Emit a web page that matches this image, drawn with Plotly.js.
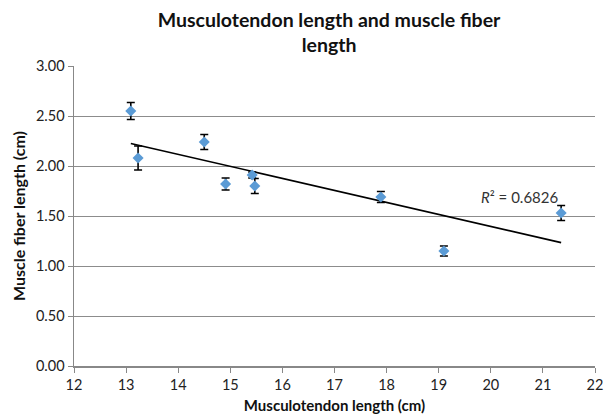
<!DOCTYPE html>
<html>
<head>
<meta charset="utf-8">
<script src="https://cdn.plot.ly/plotly-3.0.1.min.js"></script>
<style>html,body{margin:0;padding:0;background:#fff;}#chart{width:606px;height:420px;}</style>
</head>
<body>
<div id="chart"></div>
<script>
const musculotendonLength = [13.09, 13.23, 14.50, 14.91, 15.42, 15.47, 17.89, 19.10, 21.35];
const fiberLength = [2.55, 2.08, 2.24, 1.82, 1.91, 1.80, 1.69, 1.15, 1.53];
const fiberError = [0.085, 0.12, 0.075, 0.06, 0.03, 0.075, 0.055, 0.05, 0.075];
const r2Label = "R² = 0.6826";

// least squares trendline from data
const n = musculotendonLength.length;
const mx = musculotendonLength.reduce((a,b)=>a+b,0)/n;
const my = fiberLength.reduce((a,b)=>a+b,0)/n;
let sxy = 0, sxx = 0;
for (let i=0;i<n;i++){ sxy += (musculotendonLength[i]-mx)*(fiberLength[i]-my); sxx += (musculotendonLength[i]-mx)**2; }
const slope = sxy/sxx, intercept = my - slope*mx;
const xMin = Math.min(...musculotendonLength), xMax = Math.max(...musculotendonLength);
const trendX = [xMin, xMax];
const trendY = trendX.map(x => intercept + slope*x);

const font = "Lato, 'Open Sans', 'Liberation Sans', sans-serif";

const traces = [
  {x: trendX, y: trendY, mode: 'lines', line: {color: '#000', width: 1.6}, hoverinfo: 'skip'},
  {x: musculotendonLength, y: fiberLength, mode: 'markers', type: 'scatter',
   marker: {symbol: 'diamond', size: 8.5, color: '#5B9BD5'},
   error_y: {type: 'data', array: fiberError, visible: true, color: '#000', thickness: 1.6, width: 4}}
];

const layout = {
  width: 606, height: 420,
  margin: {l: 74, r: 11, t: 66, b: 54},
  paper_bgcolor: '#fff', plot_bgcolor: '#fff',
  showlegend: false,
  font: {family: font, color: '#222'},
  title: {text: '<b>Musculotendon length and muscle fiber<br>length</b>', x: 0.543, xanchor: 'center',
          yref: 'container', y: 0.936, yanchor: 'middle',
          font: {family: font, size: 19.5, color: '#111'}},
  xaxis: {range: [12, 22], dtick: 1, tick0: 12, showgrid: false, zeroline: false,
          showline: true, linecolor: '#888', linewidth: 1.5, ticks: 'outside', ticklen: 5, tickcolor: '#888',
          tickfont: {size: 14.5, color: '#222'},
          title: {text: '<b>Musculotendon length (cm)</b>', font: {size: 15, color: '#111'}, standoff: 8}},
  yaxis: {range: [0, 3], dtick: 0.5, tickformat: '.2f', showgrid: true, gridcolor: '#8c8c8c', gridwidth: 1,
          zeroline: false, showline: true, linecolor: '#888', linewidth: 1.5, ticks: 'outside', ticklen: 5, tickcolor: '#888',
          tickfont: {size: 14.5, color: '#222'},
          title: {text: '<b>Muscle fiber length (cm)</b>', font: {size: 16, color: '#111'}, standoff: 6}},
  annotations: [{x: 20.56, y: 1.69, xref: 'x', yref: 'y', text: r2Label.replace('R', '<i>R</i>'), showarrow: false,
                 font: {size: 15, color: '#333'}, xanchor: 'center'}]
};

Plotly.newPlot('chart', traces, layout, {displayModeBar: false, staticPlot: true});
</script>
</body>
</html>
